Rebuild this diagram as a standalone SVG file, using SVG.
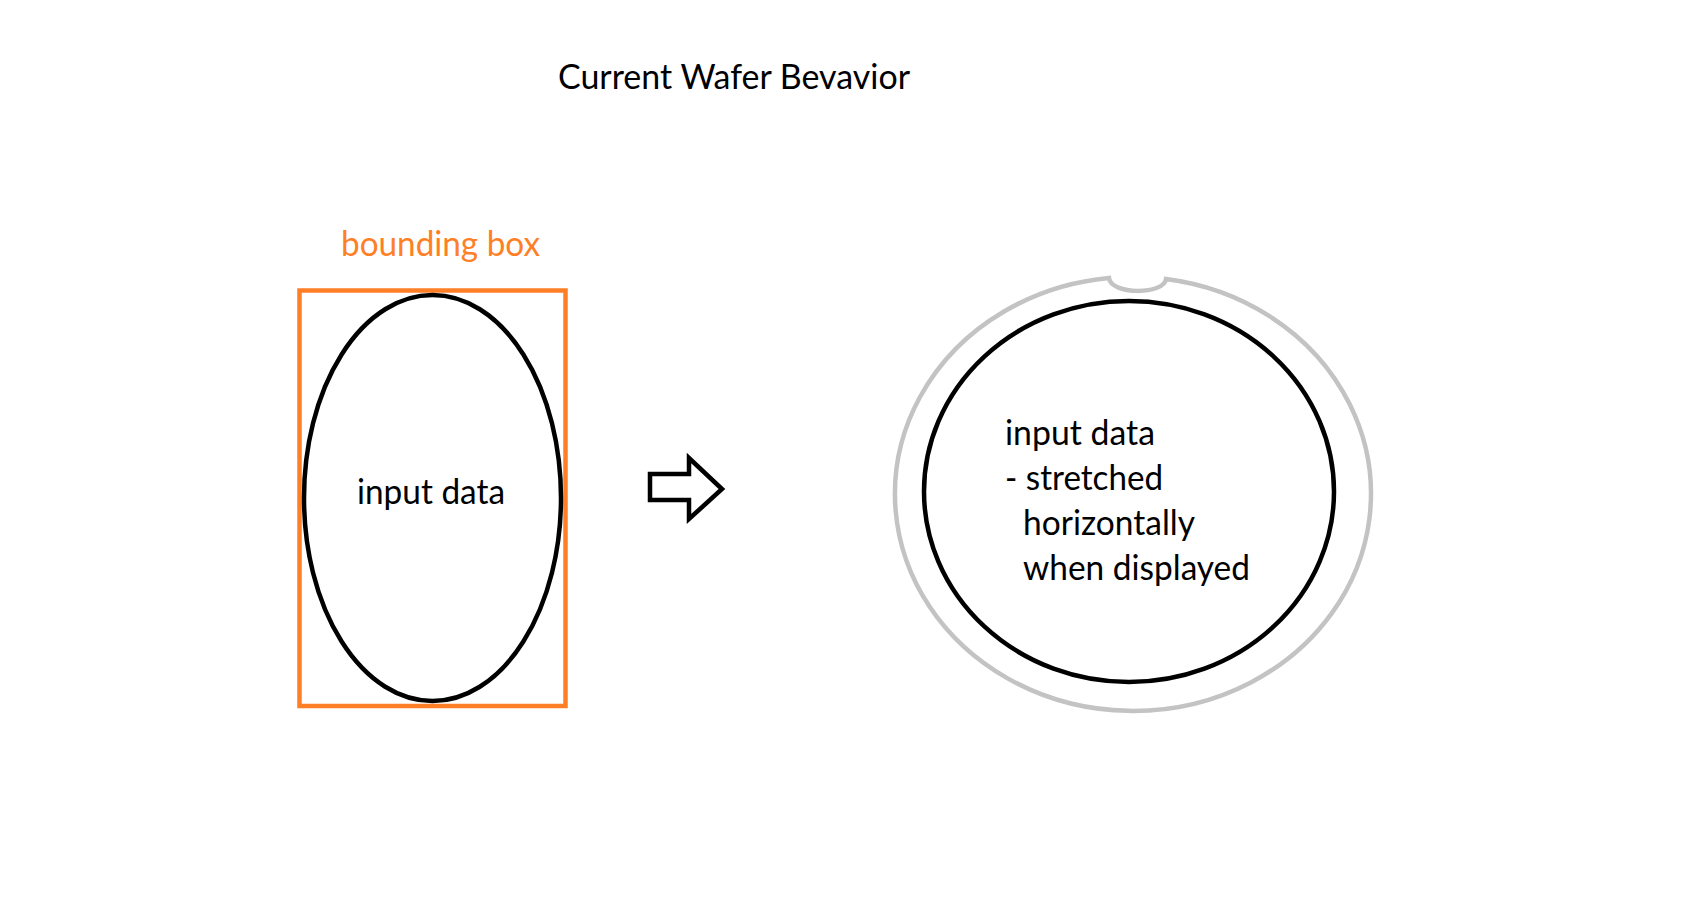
<svg xmlns="http://www.w3.org/2000/svg" width="1684" height="924" viewBox="0 0 1684 924">
  <style>
    text { font-family: Lato, "Liberation Sans", sans-serif; font-size: 35px; fill: #000000; }
    .orange { fill: #FF7F27; }
    .blk { fill: none; stroke: #000000; stroke-width: 4.5; }
    .bbox { fill: none; stroke: #FF7F27; stroke-width: 4.5; }
    .wafer { fill: none; stroke: #C3C3C3; stroke-width: 4.5; }
  </style>
  <rect x="0" y="0" width="1684" height="924" fill="#FFFFFF"/>
  <g id="title">
    <text x="558" y="89" textLength="352" lengthAdjust="spacingAndGlyphs">Current Wafer Bevavior</text>
  </g>
  <g id="bounding-box">
    <text class="orange" x="341" y="256" textLength="199" lengthAdjust="spacingAndGlyphs">bounding box</text>
    <rect class="bbox" x="299.5" y="290.5" width="266" height="415.5"/>
  </g>
  <g id="input-ellipse">
    <ellipse class="blk" cx="432.5" cy="498" rx="128.5" ry="203"/>
    <text x="357" y="504" textLength="148" lengthAdjust="spacingAndGlyphs">input data</text>
  </g>
  <g id="connectors">
    <path class="blk" stroke-linejoin="miter" d="M650,474 L689,474 L689,458 L722,489 L689,519 L689,500 L650,500 Z"/>
  </g>
  <g id="wafer">
    <path class="wafer" d="M1166,279 A238 217 0 1 1 1109,278 C1111,295 1164,295 1166,279 Z"/>
    <ellipse class="blk" cx="1129" cy="491.5" rx="205" ry="190.5"/>
    <text x="1005" y="445" textLength="150" lengthAdjust="spacingAndGlyphs">input data</text>
    <text x="1005" y="490" textLength="158" lengthAdjust="spacingAndGlyphs">- stretched</text>
    <text x="1023" y="535" textLength="172" lengthAdjust="spacingAndGlyphs">horizontally</text>
    <text x="1023" y="580" textLength="227" lengthAdjust="spacingAndGlyphs">when displayed</text>
  </g>
</svg>
